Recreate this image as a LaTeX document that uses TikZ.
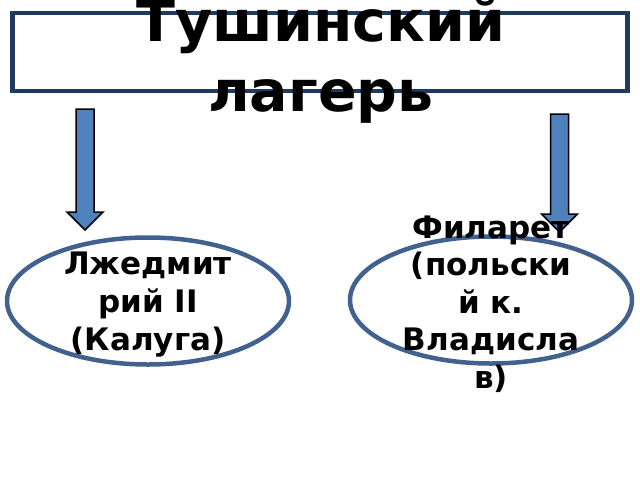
\documentclass[tikz,border=0pt]{standalone}
\usepackage{fontspec}
\setmainfont{DejaVu Sans}
\usetikzlibrary{shapes.geometric}
\definecolor{titleblue}{HTML}{1F3A5F}
\definecolor{ovalblue}{HTML}{41618F}
\definecolor{arrowblue}{HTML}{4F81BD}

\begin{document}
\begin{tikzpicture}[x=1pt,y=-1pt,
  oval/.style={ellipse, draw=ovalblue, line width=4.5pt, minimum width=282pt, minimum height=127pt, inner sep=0pt},
  lbl/.style={align=center, inner sep=0pt, font=\bfseries\fontsize{31}{38}\selectfont},
  barrow/.style={fill=arrowblue, draw=black, line width=1.5pt, line join=miter}]
\useasboundingbox (0,0) rectangle (640,480);

\node[draw=titleblue, line width=4.5pt, minimum width=615pt, minimum height=78pt, inner sep=0pt] (camp) at (320,52) {};

\foreach \ax/\ay/\at in {85/109/230, 559.5/114/232} {
  \draw[barrow] (\ax-9,\ay) -- (\ax+9,\ay) -- (\ax+9,\at-18) -- (\ax+18,\at-18)
    -- (\ax,\at) -- (\ax-18,\at-18) -- (\ax-9,\at-18) -- cycle;
}

\node[oval] (dmitry) at (148,301) {};
\node[oval] (filaret) at (491,300) {};

\node[align=center, inner sep=0pt, font=\bfseries\fontsize{57}{70}\selectfont] (title) at (321,61) {Тушинский\\лагерь};
\node[lbl] (dmitrytext) at (148,304.5) {Лжедмит\\рий II\\(Калуга)};
\node[lbl, font=\bfseries\fontsize{31}{37.5}\selectfont] (filarettext) at (491,304) {Филарет\\(польски\\й к.\\Владисла\\в)};

\end{tikzpicture}
\end{document}
